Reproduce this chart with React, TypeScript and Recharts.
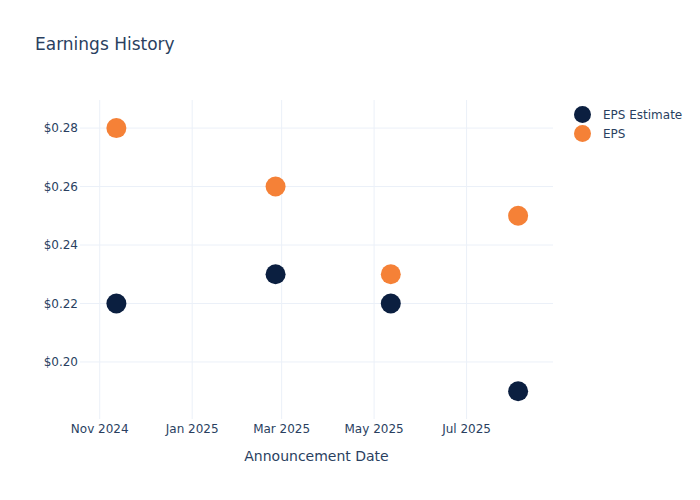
import React from "react";
import {
  ScatterChart,
  Scatter,
  XAxis,
  YAxis,
  ReferenceLine,
} from "recharts";

const announceDates = ["2024-11-12", "2025-02-25", "2025-05-12", "2025-08-04"];
const epsEstimate = [0.22, 0.23, 0.22, 0.19];
const epsActual = [0.28, 0.26, 0.23, 0.25];
const xTickDates = ["2024-11-01", "2025-01-01", "2025-03-01", "2025-05-01", "2025-07-01"];
const yTicks = [0.2, 0.22, 0.24, 0.26, 0.28];

const FONT = "'DejaVu Sans', Verdana, sans-serif";
const TEXT = "#2a3f5f";
const GRID = "#ebf0f8";
const DARK = "#0b1f40";
const ORANGE = "#f58137";

const ts = (d: string) => Date.UTC(+d.slice(0, 4), +d.slice(5, 7) - 1, +d.slice(8, 10));
const MONTHS = ["Jan", "Feb", "Mar", "Apr", "May", "Jun", "Jul", "Aug", "Sep", "Oct", "Nov", "Dec"];

const estimateData = announceDates.map((d, i) => ({ x: ts(d), y: epsEstimate[i] }));
const actualData = announceDates.map((d, i) => ({ x: ts(d), y: epsActual[i] }));

const dot = (color: string) => (props: any) =>
  <circle cx={props.cx} cy={props.cy} r={10} fill={color} />;

export default function App() {
  return (
    <div style={{ position: "absolute", left: 0, top: 0, width: 700, height: 500, fontFamily: FONT, background: "#fff" }}>
      <div style={{ position: "absolute", left: 35, top: 34, fontSize: 17, color: TEXT }}>
        Earnings History
      </div>
      <ScatterChart width={700} height={500} margin={{ top: 100, right: 147, bottom: 0, left: 0 }}>
        <XAxis
          dataKey="x"
          type="number"
          scale="time"
          domain={[ts("2024-10-19"), ts("2025-08-27")]}
          ticks={xTickDates.map(ts)}
          tickFormatter={(v: number) => {
            const d = new Date(v);
            return `${MONTHS[d.getUTCMonth()]} ${d.getUTCFullYear()}`;
          }}
          axisLine={false}
          tickLine={false}
          tickSize={0}
          tickMargin={5}
          height={81}
          tick={{ fontSize: 12, fill: TEXT, fontFamily: FONT }}
          label={{ value: "Announcement Date", position: "insideTop", offset: 32, fontSize: 14, fill: TEXT, fontFamily: FONT }}
        />
        <YAxis
          dataKey="y"
          type="number"
          domain={[0.1805, 0.2896]}
          ticks={yTicks}
          tickFormatter={(v: number) => `$${v.toFixed(2)}`}
          axisLine={false}
          tickLine={false}
          tickSize={0}
          tickMargin={2}
          width={80}
          tick={{ fontSize: 12, fill: TEXT, fontFamily: FONT }}
        />
        {yTicks.map((t) => (
          <ReferenceLine key={`h${t}`} y={t} stroke={GRID} strokeWidth={1} />
        ))}
        {xTickDates.map((d) => (
          <ReferenceLine key={`v${d}`} x={ts(d)} stroke={GRID} strokeWidth={1} />
        ))}
        <Scatter name="EPS Estimate" data={estimateData} fill={DARK} shape={dot(DARK)} isAnimationActive={false} />
        <Scatter name="EPS" data={actualData} fill={ORANGE} shape={dot(ORANGE)} isAnimationActive={false} />
      </ScatterChart>
      <div style={{ position: "absolute", left: 574, top: 105, fontSize: 12, color: TEXT }}>
        {[
          { label: "EPS Estimate", color: DARK },
          { label: "EPS", color: ORANGE },
        ].map((item) => (
          <div key={item.label} style={{ display: "flex", alignItems: "center", height: 19 }}>
            <span style={{ width: 17, height: 17, borderRadius: "50%", background: item.color, display: "inline-block" }} />
            <span style={{ marginLeft: 12 }}>{item.label}</span>
          </div>
        ))}
      </div>
    </div>
  );
}
